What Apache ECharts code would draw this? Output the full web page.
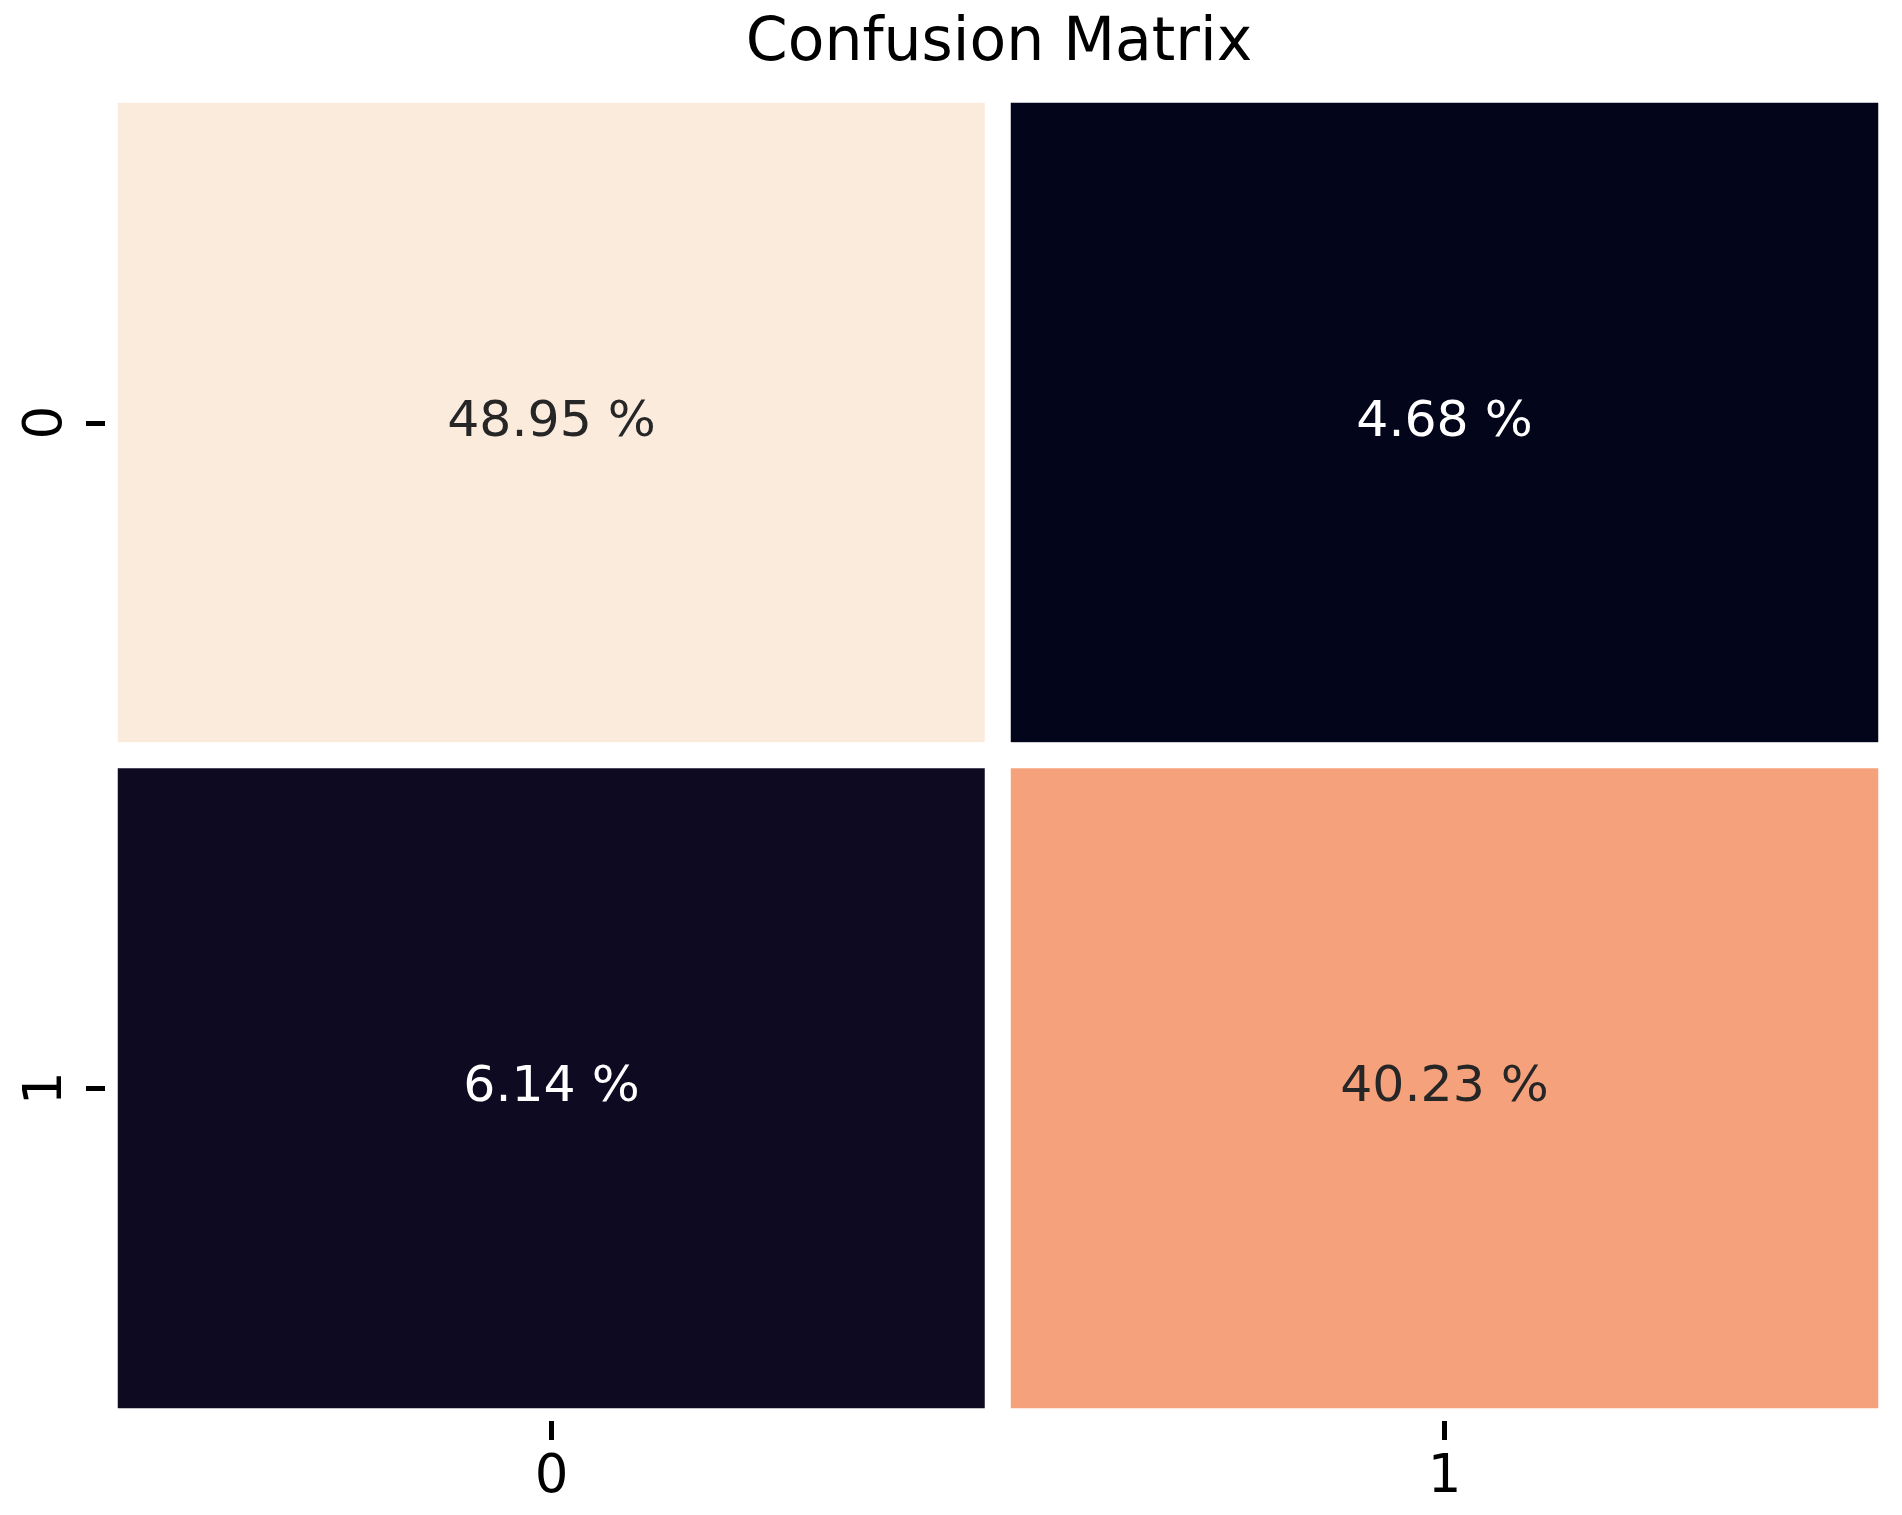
<!DOCTYPE html>
<html>
<head>
<meta charset="utf-8">
<script src="https://cdn.jsdelivr.net/npm/echarts@6/dist/echarts.min.js"></script>
<style>html,body{margin:0;padding:0;background:#fff;}#c{width:1902px;height:1515px;}</style>
</head>
<body>
<div id="c"></div>
<script>
const titleText = 'Confusion Matrix';
const xLabels = ['0', '1'];
const yLabels = ['0', '1'];
// rows: actual (y), columns: predicted (x), percentage values
const row0 = [48.95, 4.68];
const row1 = [6.14, 40.23];
const rows = [row0, row1];

const allVals = row0.concat(row1);
const vMin = Math.min.apply(null, allVals);
const vMax = Math.max.apply(null, allVals);

const data = [];
rows.forEach((r, yi) => {
  r.forEach((v, xi) => {
    const t = (v - vMin) / (vMax - vMin);
    data.push({
      value: [xi, yi, v],
      label: { color: t > 0.5 ? '#262626' : '#ffffff' }
    });
  });
});

const chart = echarts.init(document.getElementById('c'), null, { renderer: 'canvas' });
const FONT = 'DejaVu Sans';
chart.setOption({
  backgroundColor: '#ffffff',
  animation: false,
  title: {
    text: titleText,
    left: 994,
    textAlign: 'center',
    top: 9,
    textStyle: { fontFamily: FONT, fontSize: 60, fontWeight: 'normal', color: '#000000' }
  },
  grid: { left: 105, right: 11, top: 90, bottom: 94, containLabel: false },
  xAxis: {
    type: 'category',
    data: xLabels,
    z: 10,
    axisLine: { show: false },
    axisTick: { show: true, alignWithLabel: true, length: 19, lineStyle: { color: '#000', width: 5 } },
    axisLabel: { fontFamily: FONT, fontSize: 53, color: '#000', margin: 31 },
    splitLine: { show: false }
  },
  yAxis: {
    type: 'category',
    data: yLabels,
    inverse: true,
    z: 10,
    axisLine: { show: false },
    axisTick: { show: true, alignWithLabel: true, length: 19, lineStyle: { color: '#000', width: 5 } },
    axisLabel: { fontFamily: FONT, fontSize: 53, color: '#000', margin: 31, rotate: 90 },
    splitLine: { show: false }
  },
  visualMap: {
    show: false,
    type: 'continuous',
    min: vMin,
    max: vMax,
    dimension: 2,
    inRange: {
      color: ['#03051A', '#221331', '#451C47', '#6A1F56', '#921C5B', '#B91657',
              '#DA2C47', '#EE6245', '#F5A07A', '#F7C6A8', '#FAEBDD']
    }
  },
  series: [{
    type: 'heatmap',
    data: data,
    itemStyle: { borderColor: '#ffffff', borderWidth: 26 },
    label: {
      show: true,
      fontFamily: FONT,
      fontSize: 50.5,
      formatter: p => p.value[2].toFixed(2) + ' %'
    },
    emphasis: { disabled: true }
  }]
});
</script>
</body>
</html>
